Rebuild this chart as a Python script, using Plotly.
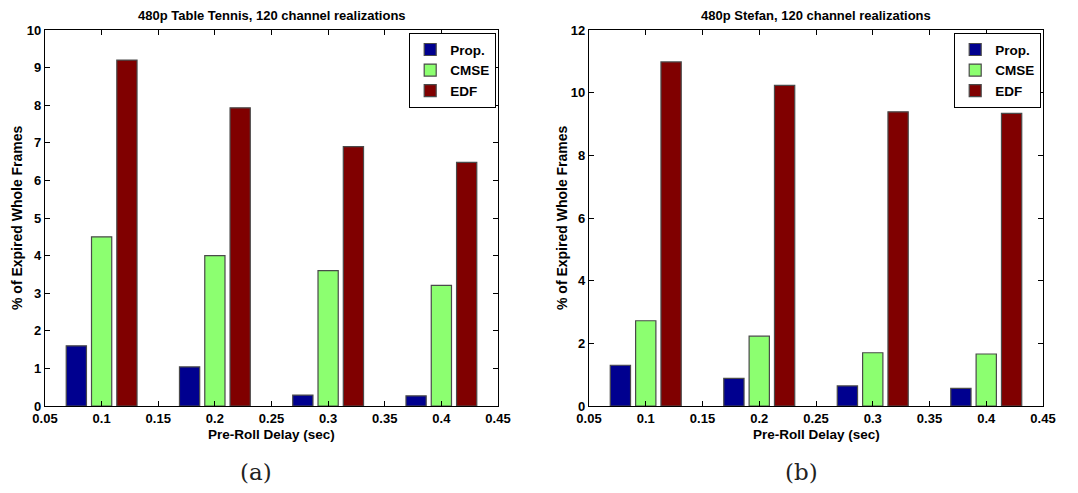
import plotly.graph_objects as go

delays = [0.1, 0.2, 0.3, 0.4]
series_names = ["Prop.", "CMSE", "EDF"]
tt_prop = [1.60, 1.04, 0.29, 0.27]
tt_cmse = [4.50, 4.00, 3.60, 3.21]
tt_edf = [9.20, 7.93, 6.90, 6.48]
st_prop = [1.30, 0.88, 0.64, 0.56]
st_cmse = [2.72, 2.23, 1.70, 1.66]
st_edf = [10.98, 10.23, 9.39, 9.34]
x_ticks = [0.05, 0.1, 0.15, 0.2, 0.25, 0.3, 0.35, 0.4, 0.45]
x_tick_labels = ["0.05", "0.1", "0.15", "0.2", "0.25", "0.3", "0.35", "0.4", "0.45"]
y_ticks_a = [0, 1, 2, 3, 4, 5, 6, 7, 8, 9, 10]
y_ticks_b = [0, 2, 4, 6, 8, 10, 12]
colors = ["#00008F", "#8CFF70", "#800000"]

WIN_W, WIN_H = 1078, 493
OFF = 8  # default page body margin
W, H = WIN_W - 2 * OFF, WIN_H - 2 * OFF
FONT = "Liberation Sans, Arial, Helvetica, sans-serif"

fig = go.Figure()

panels = [
    dict(vals=[tt_prop, tt_cmse, tt_edf], xa="x", ya="y", legend="legend"),
    dict(vals=[st_prop, st_cmse, st_edf], xa="x2", ya="y2", legend="legend2"),
]
for p in panels:
    for name, vals, col in zip(series_names, p["vals"], colors):
        fig.add_trace(go.Bar(
            x=delays, y=vals, name="<b>" + name + "</b>", xaxis=p["xa"], yaxis=p["ya"],
            marker=dict(color=col, line=dict(color="#4a4a4a", width=1.2)),
            legend=p["legend"], offsetgroup=name,
        ))

def px_x(v):
    return (v - OFF) / W

def px_y(v):
    return 1 - (v - OFF) / H

def bold(labels):
    return ["<b>" + str(t) + "</b>" for t in labels]

axis_common = dict(
    showline=True, linecolor="black", linewidth=1.3, mirror="ticks",
    ticks="inside", ticklen=5, tickcolor="black", showgrid=False, zeroline=False,
    automargin=False,
    tickfont=dict(family=FONT, size=13, color="black"),
)

leg_common = dict(
    xanchor="right", yanchor="top",
    bgcolor="white", bordercolor="black", borderwidth=1.2,
    font=dict(family=FONT, size=13.5, color="black"),
    tracegroupgap=0, itemwidth=30,
)

fig.update_layout(
    template="none",
    width=W, height=H, margin=dict(l=0, r=0, t=0, b=0, autoexpand=False),
    paper_bgcolor="white", plot_bgcolor="white",
    barmode="group", bargap=0.33, bargroupgap=0.2,
    showlegend=True,
    xaxis=dict(domain=[px_x(45), px_x(498)], range=[0.05, 0.45], tickvals=x_ticks,
               ticktext=bold(x_tick_labels), anchor="y", **axis_common),
    yaxis=dict(domain=[px_y(406), px_y(30)], range=[0, 10], tickvals=y_ticks_a,
               ticktext=bold(y_ticks_a), anchor="x", **axis_common),
    xaxis2=dict(domain=[px_x(589), px_x(1043)], range=[0.05, 0.45], tickvals=x_ticks,
                ticktext=bold(x_tick_labels), anchor="y2", **axis_common),
    yaxis2=dict(domain=[px_y(406), px_y(30)], range=[0, 12], tickvals=y_ticks_b,
                ticktext=bold(y_ticks_b), anchor="x2", **axis_common),
    legend=dict(x=px_x(496), y=px_y(33), **leg_common),
    legend2=dict(x=px_x(1041), y=px_y(33), **leg_common),
)

ann = []
def add_text(cx, cy, text, size, family=FONT, angle=0, color="black"):
    ann.append(dict(x=px_x(cx), y=px_y(cy), xref="paper", yref="paper", text=text,
                    xanchor="center", yanchor="middle", textangle=angle,
                    showarrow=False, font=dict(family=family, size=size, color=color)))

for cx, title in [((45 + 498) / 2, "480p Table Tennis, 120 channel realizations"),
                  ((589 + 1043) / 2, "480p Stefan, 120 channel realizations")]:
    add_text(cx, 15, "<b>" + title + "</b>", 13)
    add_text(cx, 434, "<b>Pre-Roll Delay (sec)</b>", 13.5)
for cx in [17, 562]:
    add_text(cx, 218, "<b>% of Expired Whole Frames</b>", 14, angle=-90)
for cx, t in [(256, "(a)"), (801, "(b)")]:
    add_text(cx, 472, t, 23, family="DejaVu Serif, Liberation Serif, serif", color="#222")
fig.update_layout(annotations=ann)

fig.write_html("out.html")
